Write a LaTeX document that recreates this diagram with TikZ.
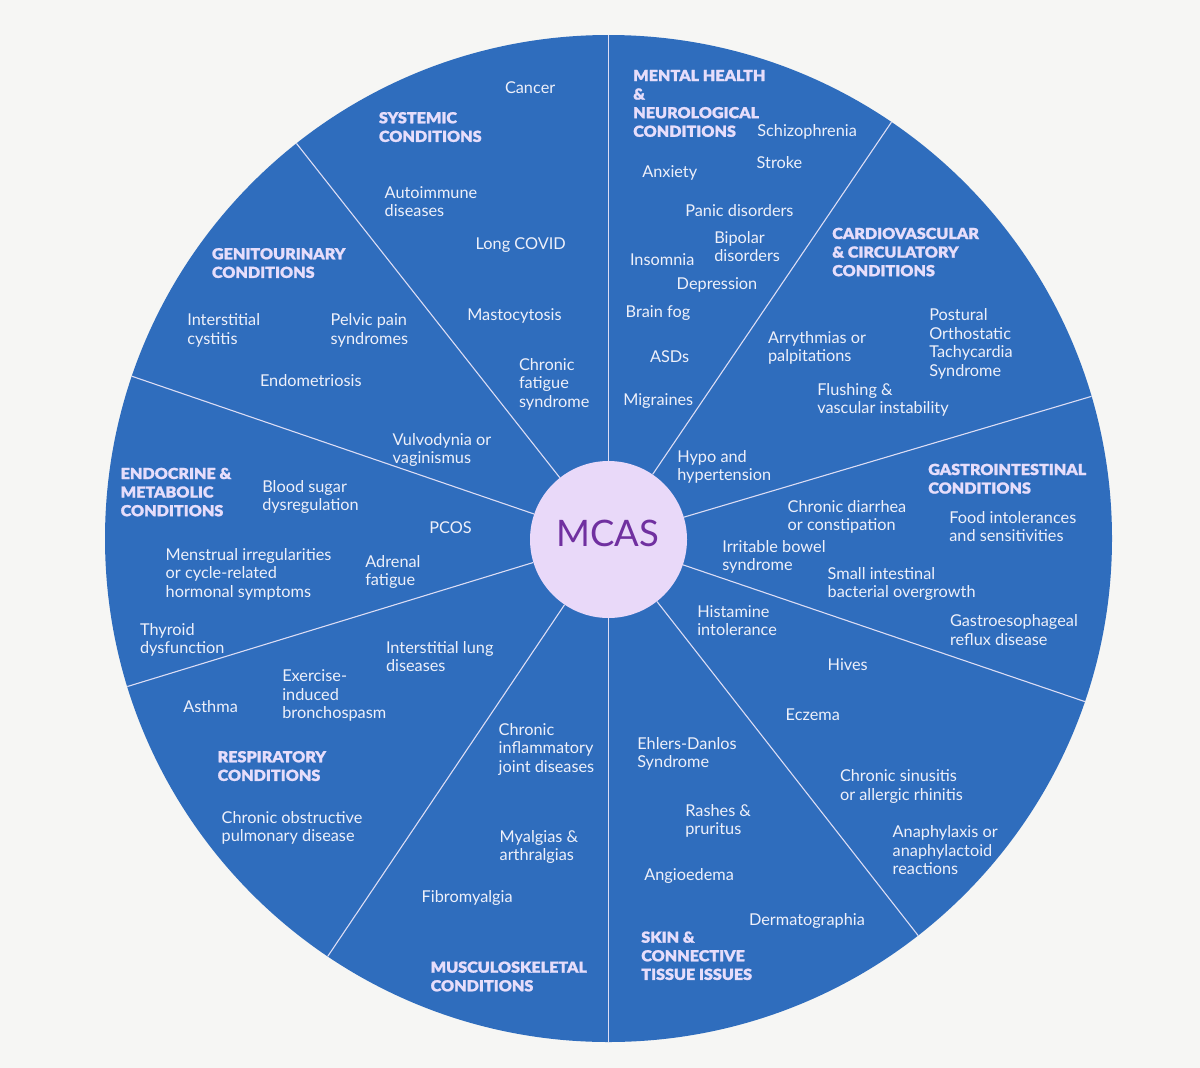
\documentclass[tikz,border=0pt]{standalone}
\usepackage{fontspec}
\setmainfont{Lato}
\newfontfamily\catfont[FakeStretch=1.06,FakeBold=1.4]{Lato Black}
\usetikzlibrary{calc}
\definecolor{bg}{HTML}{F6F6F4}
\definecolor{wheelblue}{HTML}{2F6DBD}
\definecolor{hubfill}{HTML}{E9D9F9}
\definecolor{hubtext}{HTML}{7030A0}
\definecolor{itemtext}{HTML}{EEF0FA}
\definecolor{cattext}{HTML}{E6DDFB}
\definecolor{spokecol}{HTML}{DCDDF5}
\tikzset{
  item/.style={anchor=base west, inner sep=0pt, outer sep=0pt, text=itemtext, align=left,
    font=\fontsize{16.3}{18.6}\selectfont},
  cat/.style={anchor=base west, inner sep=0pt, outer sep=0pt, text=cattext, align=left,
    font=\catfont\fontsize{15.2}{18.6}\selectfont},
  two/.style={yshift=-18.6pt},
  three/.style={yshift=-37.2pt},
  four/.style={yshift=-55.8pt},
  spokeline/.style={draw=spokecol, line width=1.1pt},
}
\begin{document}
\begin{tikzpicture}[x=1pt,y=-1pt]
\fill[bg] (0,0) rectangle (1200,1068);
\useasboundingbox (0,0) rectangle (1200,1068);
\coordinate (c) at (608.5,538.5);
\node[circle, fill=wheelblue, minimum size=1007pt, inner sep=0pt] (wheel) at (c) {};
\foreach \n/\a in {e1/-128.3, e2/-55.8, e3/-161.2, e4/162.9, e5/-16.4, e6/18.9, e7/123.9, e8/52.05, e9/-90, e10/90}{
  \coordinate (\n) at ($(c)+(\a:503.5)$);
}
\node[circle, fill=hubfill, minimum size=157pt, inner sep=0pt] (hub) at (608.5,539.5) {};
\foreach \n in {e1,e2,e3,e4,e5,e6,e7,e8,e9,e10}{
  \draw[spokeline] (hub) -- (\n);
}
\node[anchor=base, inner sep=0pt, text=hubtext, font=\fontsize{36.5}{40}\selectfont] (mcas) at (608,546.5) {MCAS};

% Systemic
\node[cat,two] (sys) at (379,123.3) {SYSTEMIC\\CONDITIONS};
\node[item] (cancer) at (505,93.3) {Cancer};
\node[item,two] (autoimm) at (384.7,198.3) {Autoimmune\\diseases};
\node[item] (covid) at (475.7,249.3) {Long COVID};
\node[item] (masto) at (467.3,320.7) {Mastocytosis};
\node[item,three] (cfs) at (519,370) {Chronic\\fatigue\\syndrome};

% Genitourinary
\node[cat,two] (gen) at (212,259.3) {GENITOURINARY\\CONDITIONS};
\node[item,two] (ic) at (187.3,325.7) {Interstitial\\cystitis};
\node[item,two] (pelvic) at (330.7,325.7) {Pelvic pain\\syndromes};
\node[item] (endo) at (260,386.7) {Endometriosis};
\node[item,two] (vulvo) at (392.7,445) {Vulvodynia or\\vaginismus};

% Endocrine
\node[cat,three] (endoc) at (120.7,479) {ENDOCRINE \&\\METABOLIC\\CONDITIONS};
\node[item,two] (blood) at (262.3,492.3) {Blood sugar\\dysregulation};
\node[item] (pcos) at (429.3,533.3) {PCOS};
\node[item,three] (menst) at (165.7,560) {Menstrual irregularities\\or cycle-related\\hormonal symptoms};
\node[item,two] (adrenal) at (365.3,567.3) {Adrenal\\fatigue};
\node[item,two] (thyroid) at (140,635) {Thyroid\\dysfunction};

% Respiratory
\node[item,two] (ild) at (386,653.3) {Interstitial lung\\diseases};
\node[item,three] (eib) at (282.3,681.7) {Exercise-\\induced\\bronchospasm};
\node[item] (asthma) at (183.3,712.7) {Asthma};
\node[cat,two] (resp) at (217.7,762.3) {RESPIRATORY\\CONDITIONS};
\node[item,two] (copd) at (221.7,823.3) {Chronic obstructive\\pulmonary disease};

% Musculoskeletal
\node[item,three] (cijd) at (498.7,735.3) {Chronic\\inflammatory\\joint diseases};
\node[item,two] (myal) at (499.7,842.3) {Myalgias \&\\arthralgias};
\node[item] (fibro) at (421.7,902) {Fibromyalgia};
\node[cat,two] (musc) at (430.7,972.7) {MUSCULOSKELETAL\\CONDITIONS};

% Mental health
\node[cat,four] (mental) at (633.3,81) {MENTAL HEALTH\\\&\\NEUROLOGICAL\\CONDITIONS};
\node[item] (schizo) at (757.3,136) {Schizophrenia};
\node[item] (stroke) at (756.7,168.3) {Stroke};
\node[item] (anxiety) at (642.3,177.3) {Anxiety};
\node[item] (panic) at (685.3,216) {Panic disorders};
\node[item,two] (bipolar) at (714.3,243.3) {Bipolar\\disorders};
\node[item] (insom) at (630,265) {Insomnia};
\node[item] (depr) at (676.7,289.3) {Depression};
\node[item] (brain) at (625.7,317.3) {Brain fog};
\node[item] (asd) at (650,362.3) {ASDs};
\node[item] (migr) at (623.3,405) {Migraines};

% Cardiovascular
\node[cat,three] (cardio) at (832.3,239) {CARDIOVASCULAR\\\& CIRCULATORY\\CONDITIONS};
\node[item,two] (arry) at (768,343.3) {Arrythmias or\\palpitations};
\node[item,four] (pots) at (929.3,320.7) {Postural\\Orthostatic\\Tachycardia\\Syndrome};
\node[item,two] (flush) at (817.3,395) {Flushing \&\\vascular instability};
\node[item,two] (hypo) at (677.3,462.3) {Hypo and\\hypertension};

% Gastrointestinal
\node[cat,two] (gastro) at (928.3,475) {GASTROINTESTINAL\\CONDITIONS};
\node[item,two] (diarr) at (787.7,512.3) {Chronic diarrhea\\or constipation};
\node[item,two] (food) at (949.3,523.3) {Food intolerances\\and sensitivities};
\node[item,two] (ibs) at (722.3,552.3) {Irritable bowel\\syndrome};
\node[item,two] (sibo) at (827.7,579.3) {Small intestinal\\bacterial overgrowth};
\node[item,two] (gerd) at (950,626.7) {Gastroesophageal\\reflux disease};

% Allergic / immune
\node[item,two] (hist) at (697.3,617.3) {Histamine\\intolerance};
\node[item] (hives) at (827.7,670) {Hives};
\node[item] (eczema) at (785.7,720) {Eczema};
\node[item,two] (sinus) at (840,781.7) {Chronic sinusitis\\or allergic rhinitis};
\node[item,three] (anaph) at (892.7,837.7) {Anaphylaxis or\\anaphylactoid\\reactions};

% Skin
\node[item,two] (eds) at (637.3,749) {Ehlers-Danlos\\Syndrome};
\node[item,two] (rash) at (685.3,816) {Rashes \&\\pruritus};
\node[item] (angio) at (644.3,880) {Angioedema};
\node[item] (dermo) at (749,925) {Dermatographia};
\node[cat,three] (skin) at (641.3,942.7) {SKIN \&\\CONNECTIVE\\TISSUE ISSUES};
\end{tikzpicture}
\end{document}
